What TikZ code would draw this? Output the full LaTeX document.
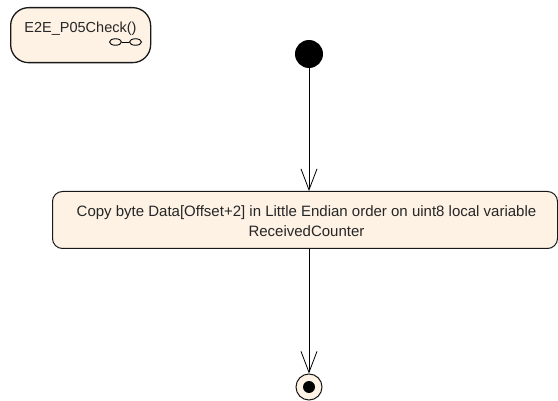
\documentclass[tikz,border=0pt]{standalone}
\usepackage{fontspec}
\setmainfont{Liberation Sans}
\usetikzlibrary{arrows.meta,shapes.geometric}
\definecolor{fillc}{RGB}{253,242,228}
\begin{document}
\begin{tikzpicture}[x=1pt,y=-1pt,
  box/.style={draw=black!90, line width=1pt, fill=fillc},
  arr/.style={-{Straight Barb[length=21pt,width=16pt,line width=0.8pt]}, line width=0.8pt},
  lbl/.style={font=\fontsize{15}{20}\selectfont, text=black!85},
  icon/.style={draw, line width=0.9pt, ellipse, minimum width=12pt, minimum height=6.5pt, inner sep=0}]
\useasboundingbox (0,0) rectangle (558,401);
\node[box, line width=1.3pt, rounded corners=18pt, minimum width=140pt, minimum height=55pt, anchor=north west] (state) at (10,7) {};
\node[lbl, font=\fontsize{14.5}{18}\selectfont, anchor=base, inner sep=0] (statelbl) at (80.5,33) {E2E\_P05Check()};
\node[icon] (ic1) at (115.5,42) {};
\node[icon] (ic2) at (135.5,42) {};
\draw[line width=0.9pt] (ic1) -- (ic2);
\node[circle, fill=black, minimum size=28pt, inner sep=0] (init) at (309,54) {};
\node[box, rounded corners=10pt, minimum width=505pt, minimum height=57pt, anchor=north west, inner sep=0] (act) at (52,191) {};
\node[lbl, align=center, inner sep=0] (acttxt) at (306.5,221) {Copy byte Data[Offset+2] in Little Endian order on uint8 local variable\\ReceivedCounter};
\node[circle, draw=black!90, line width=1pt, fill=fillc, minimum size=26pt, inner sep=0] (final) at (309,387) {};
\node[circle, fill=black, minimum size=12pt, inner sep=0] (finaldot) at (final) {};
\draw[arr] (init.south) -- (init.south |- act.north);
\draw[arr] (final.north |- act.south) -- (final.north);
\end{tikzpicture}
\end{document}
